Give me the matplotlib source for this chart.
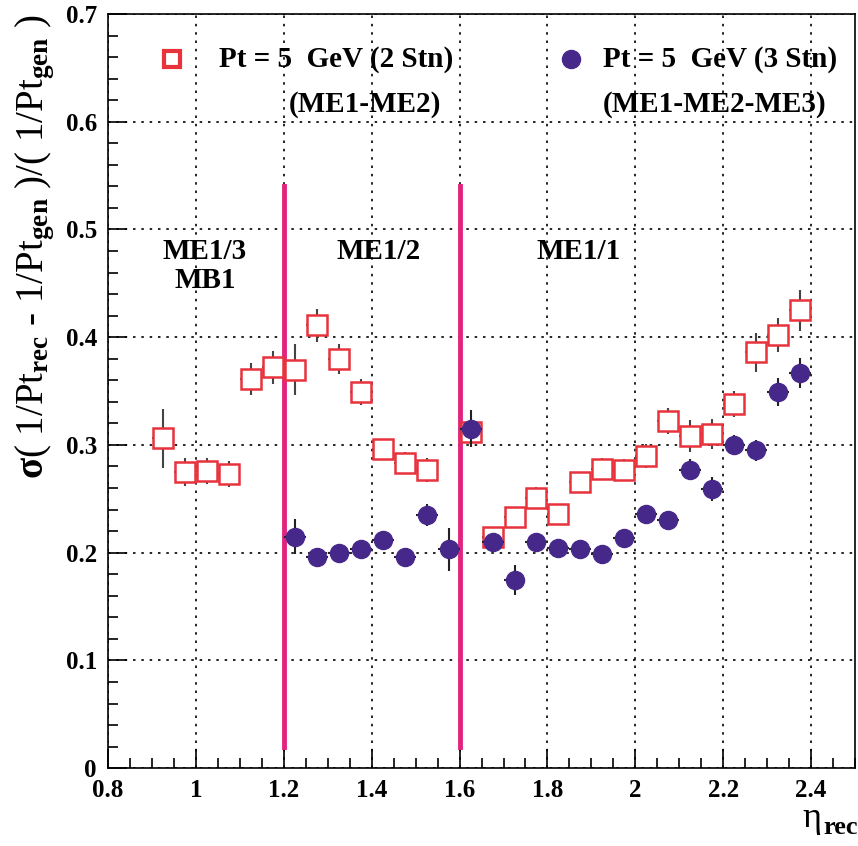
import matplotlib
matplotlib.use("Agg")
import matplotlib.pyplot as plt
from matplotlib.ticker import MultipleLocator, FuncFormatter

plt.rcParams["font.family"] = ["Liberation Serif", "DejaVu Serif"]
plt.rcParams["font.weight"] = "bold"
plt.rcParams["mathtext.fontset"] = "custom"
plt.rcParams["mathtext.rm"] = "Liberation Serif:bold"
plt.rcParams["mathtext.it"] = "Liberation Serif:bold"
plt.rcParams["mathtext.bf"] = "Liberation Serif:bold"

# ---- data ----
eta_2stn = [0.925, 0.975, 1.025, 1.075, 1.125, 1.175, 1.225, 1.275, 1.325, 1.375,
            1.425, 1.475, 1.525, 1.625, 1.675, 1.725, 1.775, 1.825, 1.875, 1.925,
            1.975, 2.025, 2.075, 2.125, 2.175, 2.225, 2.275, 2.325, 2.375]
res_2stn = [0.306, 0.275, 0.276, 0.273, 0.361, 0.372, 0.370, 0.411, 0.380, 0.349,
            0.296, 0.283, 0.277, 0.312, 0.215, 0.233, 0.251, 0.236, 0.266, 0.278,
            0.277, 0.290, 0.322, 0.308, 0.310, 0.338, 0.386, 0.402, 0.425]
err_2stn = [0.027, 0.013, 0.012, 0.012, 0.015, 0.015, 0.024, 0.015, 0.014, 0.012,
            0.009, 0.010, 0.011, 0.012, 0.008, 0.009, 0.010, 0.009, 0.009, 0.010,
            0.010, 0.011, 0.012, 0.015, 0.014, 0.012, 0.018, 0.016, 0.019]

eta_3stn = [1.225, 1.275, 1.325, 1.375, 1.425, 1.475, 1.525, 1.575, 1.625, 1.675,
            1.725, 1.775, 1.825, 1.875, 1.925, 1.975, 2.025, 2.075, 2.125, 2.175,
            2.225, 2.275, 2.325, 2.375]
res_3stn = [0.215, 0.196, 0.200, 0.203, 0.212, 0.196, 0.235, 0.203, 0.315, 0.210,
            0.175, 0.210, 0.204, 0.203, 0.199, 0.214, 0.236, 0.230, 0.277, 0.259,
            0.300, 0.295, 0.349, 0.367]
err_3stn = [0.016, 0.005, 0.005, 0.005, 0.006, 0.006, 0.010, 0.020, 0.017, 0.008,
            0.014, 0.005, 0.006, 0.005, 0.007, 0.006, 0.007, 0.008, 0.010, 0.011,
            0.009, 0.010, 0.013, 0.014]

boundaries = [1.2, 1.6]
regions = ["ME1/3\nMB1", "ME1/2", "ME1/1"]
region_x = [1.02, 1.415, 1.872]

fig = plt.figure(figsize=(8.58, 8.46), dpi=100)
ax = fig.add_axes([0.126, 0.092, 0.8705, 0.8915])

ax.errorbar(eta_2stn, res_2stn, yerr=err_2stn, xerr=0.025, fmt="s", ms=14,
            mfc="white", mec="#e8323c", mew=1.8, ecolor="#444444", elinewidth=1.5,
            capsize=0, zorder=3)
ax.errorbar(eta_3stn, res_3stn, yerr=err_3stn, xerr=0.025, fmt="o", ms=13,
            mfc="#46288a", mec="#46288a", ecolor="#222222", elinewidth=1.5,
            capsize=0, zorder=4)

for b in boundaries:
    ax.plot([b, b], [0.02, 0.54], color="#e0247f", lw=3.5, zorder=2)

for name, xr in zip(regions, region_x):
    ax.text(xr, 0.492, name, ha="center", va="top", fontsize=21,
            fontweight="bold", linespacing=1.1)

# legend drawn as text, like ROOT
ax.plot([0.945], [0.658], "s", ms=12, mfc="white", mec="#e8323c", mew=3)
ax.text(1.052, 0.658, "Pt = 5  GeV (2 Stn)", fontsize=21, va="center", fontweight="bold")
ax.text(1.212, 0.616, "(ME1-ME2)", fontsize=21, va="center", fontweight="bold")
ax.plot([1.854], [0.658], "o", ms=13, mfc="#46288a", mec="#46288a")
ax.text(1.926, 0.658, "Pt = 5  GeV (3 Stn)", fontsize=21, va="center", fontweight="bold")
ax.text(1.926, 0.616, "(ME1-ME2-ME3)", fontsize=21, va="center", fontweight="bold")

ax.set_xlim(0.8, 2.5)
ax.set_ylim(0, 0.7)
ax.xaxis.set_major_locator(MultipleLocator(0.2))
ax.xaxis.set_minor_locator(MultipleLocator(0.05))
ax.yaxis.set_major_locator(MultipleLocator(0.1))
ax.yaxis.set_minor_locator(MultipleLocator(0.02))
ax.xaxis.set_major_formatter(FuncFormatter(lambda v, p: "" if v > 2.45 else f"{v:g}"))
ax.yaxis.set_major_formatter(FuncFormatter(lambda v, p: f"{v:g}"))
ax.tick_params(which="both", direction="in", top=False, right=False, labelsize=18, width=1.2)
ax.tick_params(which="major", length=14, pad=8)
ax.tick_params(which="minor", length=7)
for s in ax.spines.values():
    s.set_linewidth(1.2)
ax.grid(True, which="major", color="black", linestyle=(0, (1.5, 3.5)), linewidth=1.2)
ax.set_axisbelow(True)

ax.set_ylabel(r"$\sigma$( 1/Pt$_{\rm rec}$ - 1/Pt$_{\rm gen}$ )/( 1/Pt$_{\rm gen}$ )",
              fontsize=28, loc="top", labelpad=6)

# x title: upright regular eta with bold subscript
fig.text(0.935, 0.022, "\u03b7", fontsize=26, fontweight="normal", va="baseline", ha="left")
fig.text(0.959, 0.0145, "rec", fontsize=19, fontweight="bold", va="baseline", ha="left")

fig.savefig("out.png", dpi=100)
